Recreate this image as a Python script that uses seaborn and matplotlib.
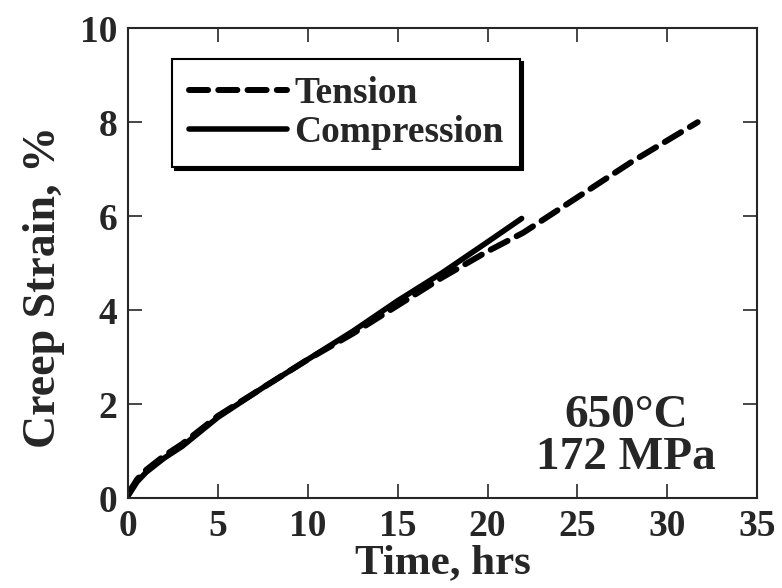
import matplotlib
matplotlib.use("Agg")
import matplotlib.pyplot as plt
import pandas as pd
import seaborn as sns

# data
time_tension = [0, 0.5, 1, 2, 3, 5, 7.5, 10, 12.5, 15, 17.5, 20, 22, 25, 28, 31.7]
strain_tension = [0.1, 0.4, 0.6, 0.9, 1.15, 1.75, 2.35, 2.95, 3.5, 4.1, 4.7, 5.25, 5.65, 6.4, 7.15, 8.0]
time_compression = [0, 0.5, 1, 2, 3, 5, 7.5, 10, 12.5, 15, 17.5, 20, 21.9]
strain_compression = [0.05, 0.35, 0.55, 0.85, 1.1, 1.72, 2.35, 2.95, 3.55, 4.2, 4.8, 5.45, 5.95]

x_ticks = [0, 5, 10, 15, 20, 25, 30, 35]
y_ticks = [0, 2, 4, 6, 8, 10]

sns.set_style("ticks")
plt.rcParams["font.family"] = ["Liberation Serif", "DejaVu Serif"]
plt.rcParams["font.weight"] = "bold"

df_t = pd.DataFrame({"time": time_tension, "strain": strain_tension})
df_c = pd.DataFrame({"time": time_compression, "strain": strain_compression})

fig = plt.figure(figsize=(7.82, 5.88), dpi=100)
ax = fig.add_axes([0.164, 0.153, 0.804, 0.799])

sns.lineplot(data=df_t, x="time", y="strain", ax=ax, color="black", lw=4.3,
             dashes=False, linestyle=(0, (3.2, 1.7)), dash_capstyle="round",
             label="Tension")
sns.lineplot(data=df_c, x="time", y="strain", ax=ax, color="black", lw=4.0,
             label="Compression")

ax.set_xlim(0, 35)
ax.set_ylim(0, 10)
ax.set_xticks(x_ticks)
ax.set_yticks(y_ticks)
ax.tick_params(direction="in", length=10, width=1.2, top=True, right=True,
               labelsize=27, pad=8)
for lab in ax.get_xticklabels() + ax.get_yticklabels():
    lab.set_fontweight("bold")
for s in ax.spines.values():
    s.set_visible(True)
    s.set_linewidth(1.5)

ax.set_xlabel("Time, hrs", fontsize=31, fontweight="bold", labelpad=0)
ax.set_ylabel("Creep Strain, %", fontsize=33, fontweight="bold")
ax.yaxis.set_label_coords(-0.1, 0.45)

ax.text(27.7, 1.3, "650°C\n172 MPa", ha="center", va="center",
        fontsize=34, fontweight="bold", linespacing=1.0)

leg = ax.legend(loc="upper left", bbox_to_anchor=(0.07, 0.935), fontsize=27,
                frameon=True, fancybox=False, edgecolor="black",
                shadow={"color": "black", "alpha": 1}, handlelength=2.6,
                handletextpad=0.2, borderpad=0.45, labelspacing=0.12,
                borderaxespad=0)
leg.get_frame().set_linewidth(1.5)
for t in leg.get_texts():
    t.set_fontweight("bold")

fig.savefig("out.png", dpi=100)
